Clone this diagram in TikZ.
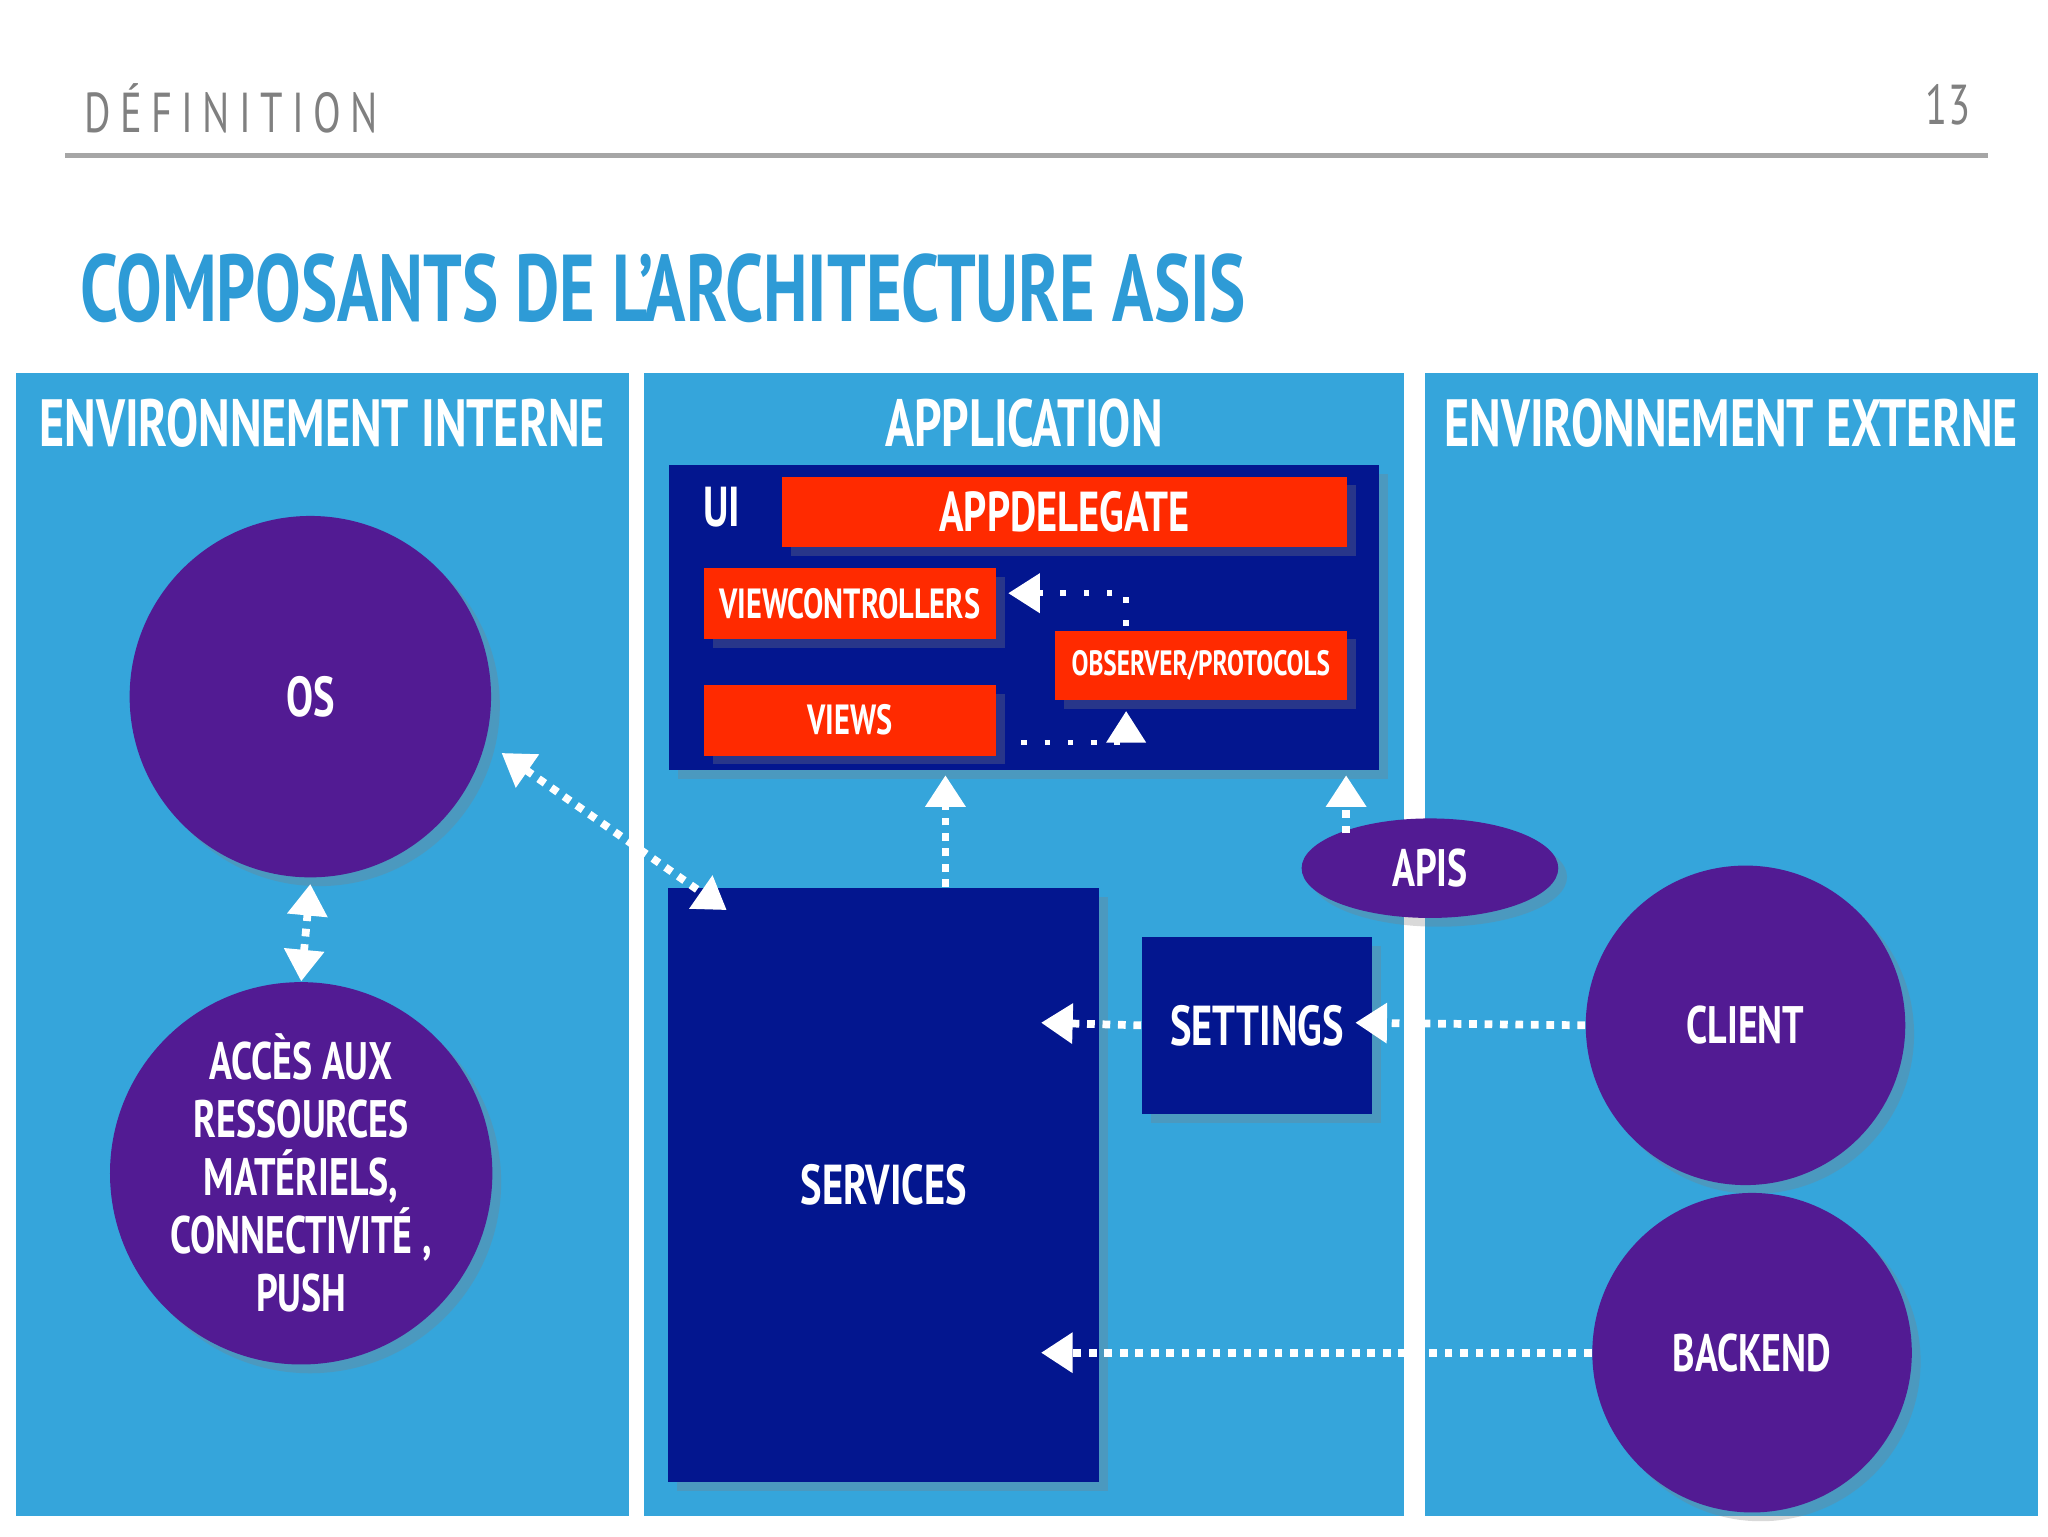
\documentclass[tikz,border=0pt]{standalone}
\usepackage{fontspec}
\setmainfont{PT Sans}[FakeStretch=0.72]
\usepackage{xcolor}
\usetikzlibrary{positioning,shapes,arrows.meta,shadows}
\definecolor{skyblue}{HTML}{35A5DB}
\definecolor{titleblue}{HTML}{2E9BD6}
\definecolor{navy}{HTML}{03168F}
\definecolor{redbox}{HTML}{FF2A00}
\definecolor{violet}{HTML}{521B93}
\begin{document}
\begin{tikzpicture}[
      x=0.013095cm, y=-0.013095cm,
      panel/.style={fill=skyblue, draw=none},
      head/.style={text=white, font=\bfseries\fontsize{19}{21}\selectfont},
      darkbox/.style={fill=navy, draw=none, inner sep=0pt, drop shadow={opacity=.3}},
      redb/.style={fill=redbox, draw=none, text=white, inner sep=0pt, drop shadow={opacity=.3}},
      bubble/.style={circle, fill=violet, draw=none, text=white, align=center, inner sep=0pt,
        drop shadow={opacity=.3}, font=\bfseries\fontsize{15}{16.5}\selectfont},
      flow/.style={white, line width=2.2pt, dash pattern=on 2.2pt off 2.2pt,
        -{Triangle[length=9pt,width=11pt]}},
    ]
      \useasboundingbox (0,0) rectangle (1564,1173);
      % header
      \node[anchor=west, text=gray, font=\fontsize{16}{18}\selectfont] (def) at (55,83) {D\,É\,F\,I\,N\,I\,T\,I\,O\,N};
      \node[anchor=east, text=gray, font=\fontsize{16}{18}\selectfont] (page) at (1514,80) {13};
      \draw[gray!70, line width=1.5pt] (50,119) -- (1518,119);
      \node[anchor=west, text=titleblue, font=\bfseries\fontsize{27}{29}\selectfont] (title) at (52,220) {COMPOSANTS DE L’ARCHITECTURE ASIS};

      % panels
      \fill[panel] (12,285) rectangle (480,1158);
      \fill[panel] (492,285) rectangle (1072,1158);
      \fill[panel] (1088,285) rectangle (1556,1158);
      \node[head] (hint) at (246,323) {ENVIRONNEMENT INTERNE};
      \node[head] (happ) at (782,323) {APPLICATION};
      \node[head] (hext) at (1322,323) {ENVIRONNEMENT EXTERNE};

      % UI
      \fill[darkbox] (511,355) rectangle (1053,588);
      \node[text=white, font=\bfseries\fontsize{16}{18}\selectfont] (ui) at (551,387) {UI};
      \node[redb, minimum width=431*0.013095cm, minimum height=54*0.013095cm,
        font=\bfseries\fontsize{16}{18}\selectfont] (appdel) at (813,391) {APPDELEGATE};
      \node[redb, minimum width=223*0.013095cm, minimum height=54*0.013095cm,
        font=\bfseries\fontsize{12}{14}\selectfont] (vc) at (649,461) {VIEWCONTROLLERS};
      \node[redb, minimum width=223*0.013095cm, minimum height=53*0.013095cm,
        font=\bfseries\fontsize{10}{12}\selectfont] (obs) at (917,508) {OBSERVER/PROTOCOLS};
      \node[redb, minimum width=223*0.013095cm, minimum height=54*0.013095cm,
        font=\bfseries\fontsize{12}{14}\selectfont] (views) at (649,550) {VIEWS};
      \coordinate (obsup) at (860,478);
      \coordinate (viewsr) at (780,567);
      \draw[flow, line width=1.6pt, dash pattern=on 1.6pt off 5pt] (obsup) -- (860,453) -- (770,453);
      \draw[flow, line width=1.6pt, dash pattern=on 1.6pt off 5pt] (viewsr) -- (860,567) -- (860,543);

      % services and settings
      \node[darkbox, minimum width=329*0.013095cm, minimum height=454*0.013095cm,
        text=white, font=\bfseries\fontsize{16}{18}\selectfont] (serv) at (675,905) {SERVICES};
      \node[darkbox, minimum width=176*0.013095cm, minimum height=135*0.013095cm,
        text=white, font=\bfseries\fontsize{16}{18}\selectfont] (sett) at (960,783) {SETTINGS};
      \node[ellipse, fill=violet, text=white, inner sep=0pt, minimum width=196*0.013095cm,
        minimum height=76*0.013095cm, drop shadow={opacity=.3},
        font=\bfseries\fontsize{15}{17}\selectfont] (apis) at (1092,663) {APIS};

      % bubbles
      \node[bubble, minimum size=276*0.013095cm, font=\bfseries\fontsize{16}{18}\selectfont] (os) at (237,532) {OS};
      \node[bubble, minimum size=292*0.013095cm] (acces) at (230,896)
        {ACCÈS AUX\\RESSOURCES\\MATÉRIELS,\\CONNECTIVITÉ ,\\PUSH};
      \node[bubble, minimum size=244*0.013095cm] (client) at (1333,783) {CLIENT};
      \node[bubble, minimum size=244*0.013095cm] (backend) at (1338,1033) {BACKEND};

      % connectors
      \draw[flow, {Triangle[length=9pt,width=11pt]}-{Triangle[length=9pt,width=11pt]}] (acces.north) -- (os.south |- 0,675);
      \draw[flow, {Triangle[length=9pt,width=11pt]}-{Triangle[length=9pt,width=11pt]}] (383,575) -- (555,695);
      \draw[flow] (serv.north -| 722,0) -- (722,592);
      \draw[flow] (apis.north -| 1028,0) ++(0,12) -- (1028,592);
      \draw[flow] (sett.west) -- (795,781);
      \draw[flow] (client.west) -- (1035,781);
      \draw[flow] (backend.west) -- (795,1033);
\end{tikzpicture}
\end{document}
